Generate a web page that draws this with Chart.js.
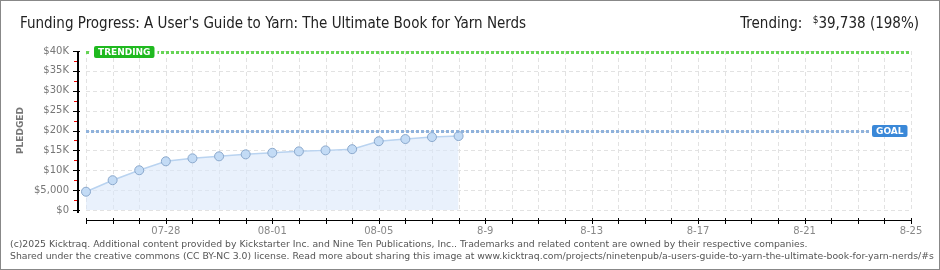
<!DOCTYPE html>
<html>
<head>
<meta charset="utf-8">
<script src="https://cdn.jsdelivr.net/npm/chart.js@4"></script>
<style>
  html, body { margin: 0; padding: 0; background: #fff; }
  #wrap { position: relative; width: 940px; height: 270px; box-sizing: border-box; border: 1px solid #888; overflow: hidden; }
  #chart { position: absolute; left: 0; top: 0; }
  .title { position: absolute; left: 19px; top: 13px; font: 15px "Liberation Sans Narrow", "DejaVu Sans Condensed", sans-serif; color: #222; white-space: nowrap; }
  .trend { position: absolute; right: 20px; top: 13px; font: 15px "Liberation Sans Narrow", "DejaVu Sans Condensed", sans-serif; color: #222; white-space: nowrap; }
  .trend sup { font-size: 10px; vertical-align: 5px; margin-left: 6px; }
  .foot { position: absolute; left: 9px; font: 9.3px "DejaVu Sans", sans-serif; color: #555; white-space: nowrap; }
</style>
</head>
<body>
<div id="wrap">
  <canvas id="chart" width="940" height="270"></canvas>
  <div class="title">Funding Progress: A User's Guide to Yarn: The Ultimate Book for Yarn Nerds</div>
  <div class="trend">Trending: <sup>$</sup>39,738 (198%)</div>
  <div class="foot" style="top:237px">(c)2025 Kicktraq. Additional content provided by Kickstarter Inc. and Nine Ten Publications, Inc.. Trademarks and related content are owned by their respective companies.</div>
  <div class="foot" style="top:249px">Shared under the creative commons (CC BY-NC 3.0) license. Read more about sharing this image at www.kicktraq.com/projects/ninetenpub/a-users-guide-to-yarn-the-ultimate-book-for-yarn-nerds/#s</div>
</div>
<script>
// days on the x axis (07-25 .. 08-25)
const days = [
  '07-25', '07-26', '07-27', '07-28', '07-29', '07-30', '07-31', '08-01',
  '08-02', '08-03', '08-04', '08-05', '08-06', '08-07', '08-08', '8-9',
  '8-10', '8-11', '8-12', '8-13', '8-14', '8-15', '8-16', '8-17',
  '8-18', '8-19', '8-20', '8-21', '8-22', '8-23', '8-24', '8-25'
];
// pledged totals, one per day so far
const pledged = [4600, 7500, 10000, 12250, 13000, 13500, 14000, 14400, 14750, 15000, 15300, 17300, 17850, 18350, 18600];
const goal = 20000;
const trending = 39738;
const yTicks = ['$0', '$5,000', '$10K', '$15K', '$20K', '$25K', '$30K', '$35K', '$40K'];

const axisFont = { family: 'DejaVu Sans', size: 10 };

// custom axes, goal/trending lines and their tags
const decor = {
    id: 'decor',
    beforeDatasetsDraw(chart) {
        const { ctx, chartArea: a, scales: { x, y } } = chart;
        ctx.save();
        // dashed grid
        ctx.strokeStyle = '#e2e2e2';
        ctx.lineWidth = 1;
        ctx.setLineDash([4, 3]);
        days.forEach((d, i) => {
            const px = Math.round(x.getPixelForValue(i)) + 0.5;
            ctx.beginPath();
            ctx.moveTo(px, a.top);
            ctx.lineTo(px, a.bottom);
            ctx.stroke();
        });
        for (let v = 0; v <= 40000; v += 5000) {
            const py = Math.round(y.getPixelForValue(v)) + 0.5;
            ctx.beginPath();
            ctx.moveTo(a.left, py);
            ctx.lineTo(a.right, py);
            ctx.stroke();
        }
        ctx.restore();
    },
    afterDatasetsDraw(chart) {
        const { ctx, chartArea: a, scales: { x, y } } = chart;
        ctx.save();
        ctx.setLineDash([]);
        // y axis (solid pixels)
        const ax = Math.round(a.left) - 9;
        const top = Math.round(y.getPixelForValue(40000));
        const bot = Math.round(a.bottom);
        ctx.fillStyle = '#000';
        ctx.fillRect(ax, top, 2, bot - top + 3);
        for (let v = 0; v <= 40000; v += 2500) {
            const py = Math.round(y.getPixelForValue(v));
            if (v % 5000 === 0) {
                ctx.fillStyle = '#000';
                ctx.fillRect(ax - 4, py, 7, 1);
            } else {
                ctx.fillStyle = '#e00';
                ctx.fillRect(ax - 3, py, 3, 1);
            }
        }
        // x axis
        const bx = bot + 10;
        ctx.fillStyle = '#000';
        ctx.fillRect(Math.round(a.left), bx, Math.round(a.right - a.left) + 1, 1);
        days.forEach((d, i) => {
            const px = Math.round(x.getPixelForValue(i));
            ctx.fillRect(px, bx - 2, 1, 6);
        });

        // goal + trending dotted lines
        const hline = (val, color) => {
            const py = Math.round(y.getPixelForValue(val));
            ctx.fillStyle = color;
            for (let px = a.left; px < a.right; px += 5) {
                ctx.fillRect(px, py - 1, 3, 3);
            }
        };
        hline(trending, '#66d455');
        hline(goal, '#8fb2dc');

        const tag = (text, cx, val, bg) => {
            const py = Math.round(y.getPixelForValue(val));
            ctx.font = 'bold 9px "DejaVu Sans"';
            const w = ctx.measureText(text).width + 8;
            ctx.fillStyle = '#fff';
            ctx.fillRect(cx - 3, py - 7, w + 6, 13);
            ctx.fillStyle = bg;
            ctx.beginPath();
            ctx.roundRect(cx, py - 6, w, 12, 2);
            ctx.fill();
            ctx.fillStyle = '#fff';
            ctx.textBaseline = 'middle';
            ctx.fillText(text, cx + 4, py + 0.5);
        };
        tag('TRENDING', 93, trending, '#1fb91f');
        tag('GOAL', 871, goal, '#3a88d8');
        ctx.restore();
    }
};

new Chart(document.getElementById('chart').getContext('2d'), {
    type: 'line',
    data: {
        labels: days,
        datasets: [{
            data: pledged,
            borderColor: '#b9d3f0',
            borderWidth: 1.5,
            backgroundColor: 'rgba(218, 232, 250, 0.6)',
            fill: 'origin',
            tension: 0,
            pointRadius: 4.5,
            pointBackgroundColor: '#c3dbf5',
            pointBorderColor: '#8aa8cc',
            pointBorderWidth: 1,
        }]
    },
    options: {
        responsive: false,
        animation: false,
        layout: { padding: { top: 50, right: 30, left: 14, bottom: 0 } },
        scales: {
            x: {
                offset: false,
                grid: { display: false, drawTicks: false },
                border: { display: false },
                afterFit: (s) => { s.height = 61; },
                ticks: {
                    autoSkip: false,
                    maxRotation: 0,
                    padding: 15,
                    color: '#888',
                    font: axisFont,
                    callback: (v, i) => (i % 4 === 3 ? days[i] : '')
                }
            },
            y: {
                min: 0,
                max: 40000,
                grid: { display: false, drawTicks: false },
                border: { display: false },
                afterFit: (s) => { s.width = 71; },
                title: {
                    display: true,
                    text: 'PLEDGED',
                    color: '#777',
                    font: { family: 'DejaVu Sans', size: 9, weight: 'bold' },
                    padding: { top: 0, bottom: 4 }
                },
                ticks: {
                    stepSize: 5000,
                    padding: 17,
                    color: '#777',
                    font: axisFont,
                    callback: (v) => yTicks[v / 5000]
                }
            }
        },
        plugins: {
            legend: { display: false },
            tooltip: { enabled: false }
        }
    },
    plugins: [decor]
});
</script>
</body>
</html>
